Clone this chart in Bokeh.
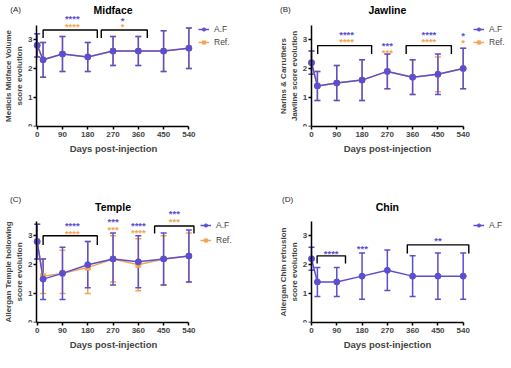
from bokeh.plotting import figure
from bokeh.layouts import gridplot
from bokeh.models import (ColumnDataSource, Whisker, TeeHead, Legend, LegendItem,
                          FixedTicker, Range1d, LinearAxis)
from bokeh.embed import file_html
from bokeh.resources import INLINE

BLUE = "#5a4fd0"
ORANGE = "#f5a552"
FONT = "Liberation Sans"

days = [0, 21, 90, 180, 270, 360, 450, 540]
x_ticks = [0, 90, 180, 270, 360, 450, 540]
y_ticks = [0, 1, 2, 3]

# (A) Midface
midface_af = [2.8, 2.3, 2.5, 2.4, 2.6, 2.6, 2.6, 2.7]
midface_af_lo = [2.4, 1.7, 1.9, 1.9, 2.1, 2.1, 1.9, 2.0]
midface_af_hi = [3.2, 2.9, 3.1, 2.9, 3.1, 3.1, 3.3, 3.4]
midface_ref = [2.8, 2.3, 2.5, 2.4, 2.6, 2.6, 2.6, 2.7]
midface_ref_lo = [2.4, 1.7, 1.9, 1.9, 2.1, 2.1, 1.9, 2.0]
midface_ref_hi = [3.2, 2.9, 3.1, 2.9, 3.1, 3.1, 3.3, 3.4]

# (B) Jawline
jaw_af = [2.2, 1.4, 1.5, 1.6, 1.9, 1.7, 1.8, 2.0]
jaw_af_lo = [1.8, 0.9, 0.9, 0.9, 1.3, 1.1, 1.1, 1.3]
jaw_af_hi = [2.6, 1.9, 2.1, 2.3, 2.5, 2.3, 2.5, 2.7]
jaw_ref = [2.2, 1.4, 1.5, 1.6, 1.9, 1.7, 1.8, 2.0]
jaw_ref_lo = [1.8, 0.9, 0.9, 0.9, 1.3, 1.1, 1.2, 1.3]
jaw_ref_hi = [2.6, 1.9, 2.1, 2.3, 2.5, 2.3, 2.4, 2.7]

# (C) Temple
temple_af = [2.8, 1.5, 1.7, 2.0, 2.2, 2.1, 2.2, 2.3]
temple_af_lo = [2.2, 0.8, 0.8, 1.2, 1.3, 1.2, 1.3, 1.4]
temple_af_hi = [3.4, 2.2, 2.6, 2.8, 3.1, 3.0, 3.1, 3.2]
temple_ref = [2.8, 1.6, 1.7, 1.9, 2.2, 2.0, 2.2, 2.3]
temple_ref_lo = [2.2, 1.0, 1.0, 1.0, 1.4, 1.1, 1.3, 1.4]
temple_ref_hi = [3.4, 2.2, 2.5, 2.8, 3.0, 2.9, 3.0, 3.1]

# (D) Chin
chin_af = [2.2, 1.4, 1.4, 1.6, 1.8, 1.6, 1.6, 1.6]
chin_af_lo = [1.8, 0.9, 0.9, 0.8, 1.1, 0.9, 0.8, 0.8]
chin_af_hi = [2.6, 1.9, 1.9, 2.4, 2.5, 2.3, 2.4, 2.4]

# significance brackets: (start, end, top, leg bottom)
midface_brackets = [(21, 214, 3.33, 3.05), (228, 392, 3.33, 3.05)]
jaw_brackets = [(22, 214, 2.79, 2.5), (337, 498, 2.79, 2.5)]
temple_brackets = [(21, 214, 3.0, 2.68), (418, 558, 3.34, 3.08)]
chin_brackets = [(20, 121, 2.30, 2.04), (341, 560, 2.68, 2.38)]

# significance stars: (x, y, text, series)
midface_stars = [(125, 3.72, "****", "af"), (125, 3.45, "****", "ref"),
                 (304, 3.66, "*", "af"), (304, 3.45, "*", "ref")]
jaw_stars = [(125, 3.16, "****", "af"), (125, 2.92, "****", "ref"),
             (270, 2.81, "***", "af"), (270, 2.56, "***", "ref"),
             (418, 3.16, "****", "af"), (418, 2.92, "****", "ref"),
             (540, 3.13, "*", "af"), (540, 2.88, "*", "ref")]
temple_stars = [(125, 3.36, "****", "af"), (125, 3.08, "****", "ref"),
                (270, 3.49, "***", "af"), (270, 3.22, "***", "ref"),
                (360, 3.36, "****", "af"), (360, 3.10, "****", "ref"),
                (488, 3.76, "***", "af"), (488, 3.49, "***", "ref")]
chin_stars = [(70, 2.39, "****", "af"), (181, 2.56, "***", "af"), (450, 2.82, "**", "af")]

PX_PER_DAY = 0.2809
NB = "\u00a0"


def panel(letter, title, ylabel, xlabel, series, brackets, stars, width, zero_px,
          axis_x, yr, bottom, letter_xy, title_y, legend_loc, legend_spacing):
    x0 = -zero_px / PX_PER_DAY
    p = figure(width=width, height=184, output_backend="svg", toolbar_location=None,
               x_range=Range1d(x0, x0 + width / PX_PER_DAY), y_range=Range1d(*yr),
               y_axis_location=None,
               min_border_left=0, min_border_right=0, min_border_top=0,
               min_border_bottom=bottom)
    p.outline_line_color = None
    p.grid.visible = False
    p.background_fill_color = "white"
    p.border_fill_color = "white"

    yax = LinearAxis(fixed_location=axis_x)
    p.add_layout(yax, "left")

    for ax in (p.xaxis[0], yax):
        ax.axis_line_width = 1.5
        ax.major_tick_line_width = 1.5
        ax.major_tick_out = 3
        ax.major_tick_in = 0
        ax.minor_tick_line_color = None
        ax.major_label_text_font = FONT
        ax.major_label_text_font_style = "bold"
        ax.major_label_text_font_size = "8px"
        ax.axis_label_text_font = FONT
        ax.axis_label_text_font_style = "bold"
    p.xaxis.ticker = FixedTicker(ticks=x_ticks)
    yax.ticker = FixedTicker(ticks=y_ticks)
    p.xaxis.bounds = (axis_x, 540)
    yax.bounds = (0, 3.5)
    p.xaxis.axis_label = xlabel
    p.xaxis.axis_label_text_font_size = "9.5px"
    p.xaxis.axis_label_standoff = 3
    p.xaxis.major_label_standoff = 2
    yax.axis_label = ylabel
    yax.axis_label_text_font_size = "8px"
    yax.axis_label_standoff = 1
    yax.major_label_standoff = 1

    items = []
    for name, vals, lo, hi, color, marker, msize in series:
        src = ColumnDataSource(dict(x=days, y=vals, lo=lo, hi=hi))
        w = Whisker(source=src, base="x", lower="lo", upper="hi", line_color=color,
                    line_width=1.5,
                    lower_head=TeeHead(size=6, line_color=color, line_width=1.5),
                    upper_head=TeeHead(size=6, line_color=color, line_width=1.5))
        p.add_layout(w)
        lr = p.line("x", "y", source=src, line_color=color, line_width=1.5)
        sr = p.scatter("x", "y", source=src, marker=marker, size=msize,
                       fill_color=color, line_color=color)
        items.append((name, [lr, sr]))

    for (b0, b1, top, leg) in brackets:
        p.line([b0, b0, b1, b1], [leg, top, top, leg], line_color="black", line_width=1.4)

    sx = [s[0] for s in stars]
    sy = [s[1] for s in stars]
    st = [s[2] for s in stars]
    sc = [BLUE if s[3] == "af" else ORANGE for s in stars]
    p.text(x=sx, y=sy, text=st, text_color=sc, text_align="center",
           text_baseline="middle", text_font_size="9.5px", text_font_style="bold")

    p.text(x=[270], y=[title_y], text=[title], text_align="center",
           text_baseline="middle", text_font_size="10.5px", text_font_style="bold",
           text_color="black")

    p.text(x=[letter_xy[0]], y=[letter_xy[1]], text=[letter], text_align="center",
           text_baseline="middle", text_font_size="8px", text_color="#222222")

    legend_items = [LegendItem(label=n, renderers=r) for n, r in items if n == "A.F"] + \
                   [LegendItem(label=n, renderers=r) for n, r in items if n != "A.F"]
    leg = Legend(items=legend_items, location=legend_loc, orientation="vertical",
                 glyph_width=11, glyph_height=8, label_height=8, spacing=legend_spacing,
                 padding=0, margin=0, label_standoff=5, label_text_font_size="8.5px",
                 label_text_font=FONT, background_fill_alpha=0, border_line_alpha=0)
    p.add_layout(leg)
    return p


XLAB = "Days post-injection"
xlab_left = XLAB + NB * 11
xlab_right = NB * 3 + XLAB

pa = panel("(A)", "Midface", "Medicis Midface Volume\nscore evolution", xlab_left,
           [("Ref.", midface_ref, midface_ref_lo, midface_ref_hi, ORANGE, "square", 5),
            ("A.F", midface_af, midface_af_lo, midface_af_hi, BLUE, "circle", 6)],
           midface_brackets, midface_stars, 255, 36.7, -2.5, (0, 126 / 29.0), 58,
           (-77, 4.03), 4.03, (198, 79), 3)

pb = panel("(B)", "Jawline", "Narins & Carruthers\nJawline score evolution", xlab_right,
           [("Ref.", jaw_ref, jaw_ref_lo, jaw_ref_hi, ORANGE, "square", 5),
            ("A.F", jaw_af, jaw_af_lo, jaw_af_hi, BLUE, "circle", 6)],
           jaw_brackets, jaw_stars, 256, 56.0, -1.2, (0, 126 / 29.0), 58,
           (-93, 4.03), 4.03, (218, 79), 3)

pc = panel("(C)", "Temple", "Allergan Temple hollowing\nscore evolution", xlab_left,
           [("Ref.", temple_ref, temple_ref_lo, temple_ref_hi, ORANGE, "square", 5),
            ("A.F", temple_af, temple_af_lo, temple_af_hi, BLUE, "circle", 6)],
           temple_brackets, temple_stars, 255, 36.7, -2.5, (0, 138 / 28.9), 46,
           (-77, 4.26), 3.99, (200, 77), 5)

pd_ = panel("(D)", "Chin", "Allergan Chin retrusion\nscore evolution", xlab_right,
            [("A.F", chin_af, chin_af_lo, chin_af_hi, BLUE, "circle", 6)],
            chin_brackets, chin_stars, 256, 56.0, -1.2, (0, 140 / 29.4), 44,
            (-85, 4.25), 3.99, (218, 92), 3)

grid = gridplot([[pa, pb], [pc, pd_]], toolbar_location=None)

open("out.html", "w").write(file_html(grid, INLINE))
